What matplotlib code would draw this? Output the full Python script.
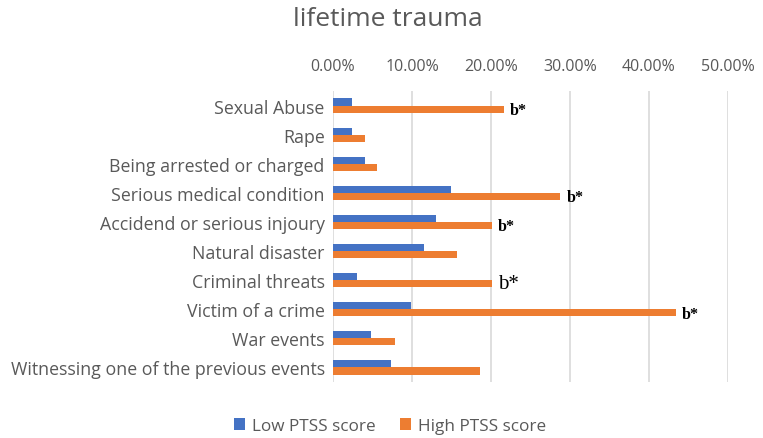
import numpy as np
import matplotlib.pyplot as plt
from matplotlib.ticker import PercentFormatter

categories = ["Sexual Abuse", "Rape", "Being arrested or charged", "Serious medical condition",
              "Accidend or serious injoury", "Natural disaster", "Criminal threats",
              "Victim of a crime", "War events", "Witnessing one of the previous events"]
low_ptss = [2.4, 2.4, 4.0, 14.9, 13.1, 11.5, 3.1, 9.9, 4.8, 7.4]
high_ptss = [21.6, 4.05, 5.6, 28.8, 20.1, 15.7, 20.1, 43.4, 7.9, 18.6]
marks = ["b*", "", "", "b*", "b*", "", "b*", "b*", "", ""]

blue = "#4472C4"
orange = "#ED7D31"
grey = "#595959"
plt.rcParams['font.family'] = ['Open Sans', 'DejaVu Sans']

fig = plt.figure(figsize=(7.63, 4.39), dpi=100)
ax = fig.add_axes([0.4364, 0.1276, 0.5177, 0.6628])

y = np.arange(len(categories))
h = 0.245
ax.barh(y - h / 2, low_ptss, height=h, color=blue, label="Low PTSS score", zorder=3)
ax.barh(y + h / 2, high_ptss, height=h, color=orange, label="High PTSS score", zorder=3)

for i, m in enumerate(marks):
    if not m:
        continue
    big = categories[i] == "Criminal threats"
    ax.text(high_ptss[i] + 0.8, y[i] + h / 2 + (0.0 if big else 0.03), m, family="Liberation Serif",
            fontsize=15 if big else 11.5, fontweight="normal" if big else "bold",
            va="center", ha="left", color="black", zorder=4)

ax.set_xlim(0, 50)
ax.set_ylim(len(categories) - 0.5, -0.5)
ax.set_yticks(y)
ax.set_yticklabels(categories)
ax.xaxis.set_major_formatter(PercentFormatter(decimals=2))
ax.set_xticks(np.arange(0, 51, 10))
ax.xaxis.tick_top()
ax.tick_params(axis="both", length=0, labelcolor=grey)
ax.tick_params(axis="x", pad=12, labelsize=11.5)
ax.tick_params(axis="y", pad=6, labelsize=12.8)
ax.grid(axis="x", color="#d9d9d9", linewidth=1.2, zorder=0)
for s in ax.spines.values():
    s.set_visible(False)

fig.suptitle("lifetime trauma", x=0.508, y=0.985, fontsize=19, color=grey)
fig.legend(loc="center", bbox_to_anchor=(0.511, 1 - 427 / 439), ncol=2, frameon=False,
           fontsize=12.3, labelcolor=grey, handlelength=0.65, handleheight=0.65,
           columnspacing=1.4, handletextpad=0.4)

fig.savefig("out.png", dpi=100)
